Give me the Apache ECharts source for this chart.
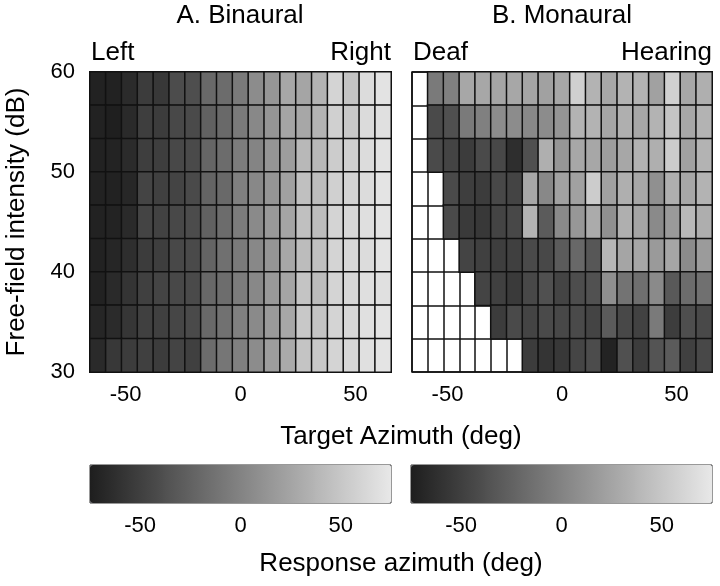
<!DOCTYPE html>
<html>
<head>
<meta charset="utf-8">
<script src="https://cdn.jsdelivr.net/npm/echarts@6/dist/echarts.min.js"></script>
<style>
  html, body { margin: 0; padding: 0; background: #fff; }
  #chart { width: 720px; height: 586px; }
</style>
</head>
<body>
<div id="chart"></div>
<script>
// target azimuth of each column (deg), left to right
const targetAz = [-62, -55, -48, -41, -34, -28, -21, -14, -7, 0, 7, 14, 21, 28, 34, 41, 48, 55, 62];
// free-field intensity of each row (dB), top to bottom
const intensity = [58.3, 55, 51.7, 48.3, 45, 41.7, 38.3, 35, 31.7];
const azTicks = [-50, 0, 50];

// mean response azimuth (deg), rows top (60 dB) to bottom (30 dB)
const binaural = [
  [-72, -72, -65, -53, -56, -41, -39, -19, -17, -7, 7, 14, 27, 25, 36, 60, 48, 66, 71],
  [-72, -74, -66, -51, -53, -44, -42, -25, -19, -7, 4, 13, 25, 27, 36, 57, 51, 65, 69],
  [-72, -71, -65, -51, -51, -44, -42, -22, -17, -5, 1, 13, 19, 39, 39, 54, 57, 66, 71],
  [-72, -72, -68, -47, -50, -47, -42, -23, -19, -2, 4, 13, 22, 45, 42, 57, 60, 66, 72],
  [-72, -71, -66, -47, -48, -44, -41, -25, -17, -5, 5, 16, 25, 45, 42, 60, 63, 68, 72],
  [-72, -69, -63, -53, -51, -44, -42, -23, -14, -7, 4, 13, 27, 42, 45, 60, 63, 66, 72],
  [-72, -66, -59, -50, -47, -44, -42, -20, -16, -5, 4, 16, 25, 48, 42, 60, 63, 68, 69],
  [-69, -65, -57, -50, -50, -45, -42, -19, -13, -2, 5, 17, 27, 51, 48, 60, 63, 69, 72],
  [-66, -56, -53, -50, -53, -47, -50, -17, -10, -2, 7, 19, 29, 48, 51, 60, 63, 69, 72]
];

// null = no response (white cell)
const monaural = [
  [null, -7, -2, 27, 27, 25, 27, 25, 22, 27, 57, 36, 27, 36, 36, 22, 57, 27, 33],
  [null, -42, -38, -7, -2, 7, 7, 4, 7, 13, 36, 36, 25, 33, 27, 36, 48, 27, 36],
  [null, -42, -47, -53, -42, -44, -63, -38, 33, 14, 27, 27, 19, 27, 36, 33, 54, 22, 36],
  [null, null, -42, -51, -53, -44, -47, 27, 4, 22, 22, 54, 22, 33, 27, 10, 33, 27, 36],
  [null, null, -42, -54, -56, -47, -44, 36, -30, 5, 15, 30, 10, 33, 25, 5, 17, 40, 32],
  [null, null, null, -47, -50, -51, -50, -42, -44, -30, -20, -33, 38, 25, 26, 17, 26, 6, 18],
  [null, null, null, null, -47, -50, -54, -44, -38, -47, -40, -37, 9, -12, -15, 5, -31, -17, -14],
  [null, null, null, null, null, -53, -42, -47, -42, -44, -42, -47, -30, -44, -48, -7, -52, -39, -43],
  [null, null, null, null, null, null, null, -53, -59, -56, -46, -41, -71, -38, -53, -35, -30, -50, -44]
];

function cells(rows) {
  const out = [];
  rows.forEach((row, r) => row.forEach((v, c) => {
    if (v !== null) out.push([c, r, v]);
  }));
  return out;
}

const font = 'Liberation Sans, Arial, sans-serif';
const grayRange = ['#1e1e1e', '#e8e8e8'];

// hidden category axes that carry the cells and draw the cell grid
function cellX(gridIndex) {
  return {
    type: 'category', gridIndex, data: targetAz, position: 'bottom',
    axisLine: { show: false }, axisTick: { show: false }, axisLabel: { show: false },
    splitLine: { show: true, interval: 0, lineStyle: { color: '#111', width: 1.5 } }
  };
}
function cellY(gridIndex) {
  return {
    type: 'category', gridIndex, data: intensity, inverse: true,
    axisLine: { show: false }, axisTick: { show: false }, axisLabel: { show: false },
    splitLine: { show: true, interval: 0, lineStyle: { color: '#111', width: 1.5 } }
  };
}
// visible azimuth scale under each panel
function azAxis(gridIndex, min, max, position, labels) {
  return {
    type: 'value', gridIndex, min, max, position,
    axisLine: { show: false },
    axisTick: { show: true, inside: true, length: 4, customValues: azTicks, lineStyle: { color: '#000' } },
    axisLabel: { show: labels, customValues: azTicks, fontSize: 22, color: '#000', fontFamily: font, margin: 12 },
    splitLine: { show: false }
  };
}

const chart = echarts.init(document.getElementById('chart'));

chart.setOption({
  backgroundColor: '#fff',
  animation: false,
  grid: [
    { left: 90, top: 72, width: 301, height: 300, show: true, borderColor: '#111', borderWidth: 1.5 },
    { left: 412, top: 72, width: 300, height: 300, show: true, borderColor: '#111', borderWidth: 1.5 },
    { left: 90, top: 465, width: 301, height: 38, show: true, borderColor: '#333', borderWidth: 1 },
    { left: 411, top: 465, width: 301, height: 38, show: true, borderColor: '#333', borderWidth: 1 }
  ],
  xAxis: [
    cellX(0),
    Object.assign(azAxis(0, -65.5, 65.5, 'bottom', true), { axisTick: { show: false } }),
    cellX(1),
    Object.assign(azAxis(1, -65.5, 65.5, 'bottom', true), { axisTick: { show: false } }),
    azAxis(2, -75, 75, 'bottom', true),
    azAxis(2, -75, 75, 'top', false),
    azAxis(3, -75, 75, 'bottom', true),
    azAxis(3, -75, 75, 'top', false)
  ],
  yAxis: [
    cellY(0),
    {
      type: 'value', gridIndex: 0, min: 30, max: 60, interval: 10, position: 'left',
      axisLine: { show: false }, axisTick: { show: false }, splitLine: { show: false },
      axisLabel: { fontSize: 22, color: '#000', fontFamily: font, margin: 15 }
    },
    cellY(1),
    { type: 'value', gridIndex: 2, show: false, min: 0, max: 1 },
    { type: 'value', gridIndex: 3, show: false, min: 0, max: 1 }
  ],
  visualMap: [
    {
      type: 'continuous', seriesIndex: 0, min: -75, max: 75, inRange: { color: grayRange },
      orient: 'horizontal', left: 90, top: 465, itemWidth: 38, itemHeight: 301,
      calculable: false, text: null, padding: 0, hoverLink: false
    },
    {
      type: 'continuous', seriesIndex: 1, min: -75, max: 75, inRange: { color: grayRange },
      orient: 'horizontal', left: 411, top: 465, itemWidth: 38, itemHeight: 301,
      calculable: false, text: null, padding: 0, hoverLink: false
    }
  ],
  series: [
    {
      name: 'Binaural', type: 'heatmap', xAxisIndex: 0, yAxisIndex: 0,
      data: cells(binaural),
      itemStyle: { borderColor: '#111', borderWidth: 1.5 },
      emphasis: { disabled: true }
    },
    {
      name: 'Monaural', type: 'heatmap', xAxisIndex: 2, yAxisIndex: 2,
      data: cells(monaural),
      itemStyle: { borderColor: '#111', borderWidth: 1.5 },
      emphasis: { disabled: true }
    }
  ],
  graphic: [
    { type: 'text', x: 240, y: 16, style: { text: 'A. Binaural', font: '26px ' + font, fill: '#000', textAlign: 'center', textVerticalAlign: 'middle' } },
    { type: 'text', x: 562, y: 16, style: { text: 'B. Monaural', font: '26px ' + font, fill: '#000', textAlign: 'center', textVerticalAlign: 'middle' } },
    { type: 'text', x: 91, y: 53, style: { text: 'Left', font: '26px ' + font, fill: '#000', textAlign: 'left', textVerticalAlign: 'middle' } },
    { type: 'text', x: 391, y: 53, style: { text: 'Right', font: '26px ' + font, fill: '#000', textAlign: 'right', textVerticalAlign: 'middle' } },
    { type: 'text', x: 413, y: 53, style: { text: 'Deaf', font: '26px ' + font, fill: '#000', textAlign: 'left', textVerticalAlign: 'middle' } },
    { type: 'text', x: 712, y: 53, style: { text: 'Hearing', font: '26px ' + font, fill: '#000', textAlign: 'right', textVerticalAlign: 'middle' } },
    { type: 'text', x: 401, y: 437, style: { text: 'Target Azimuth (deg)', font: '26px ' + font, fill: '#000', textAlign: 'center', textVerticalAlign: 'middle' } },
    { type: 'text', x: 401, y: 564, style: { text: 'Response azimuth (deg)', font: '26px ' + font, fill: '#000', textAlign: 'center', textVerticalAlign: 'middle' } },
    { type: 'text', x: 17, y: 222, rotation: Math.PI / 2, style: { text: 'Free-field intensity (dB)', font: '26px ' + font, fill: '#000', textAlign: 'center', textVerticalAlign: 'middle' } }
  ]
});
</script>
</body>
</html>
